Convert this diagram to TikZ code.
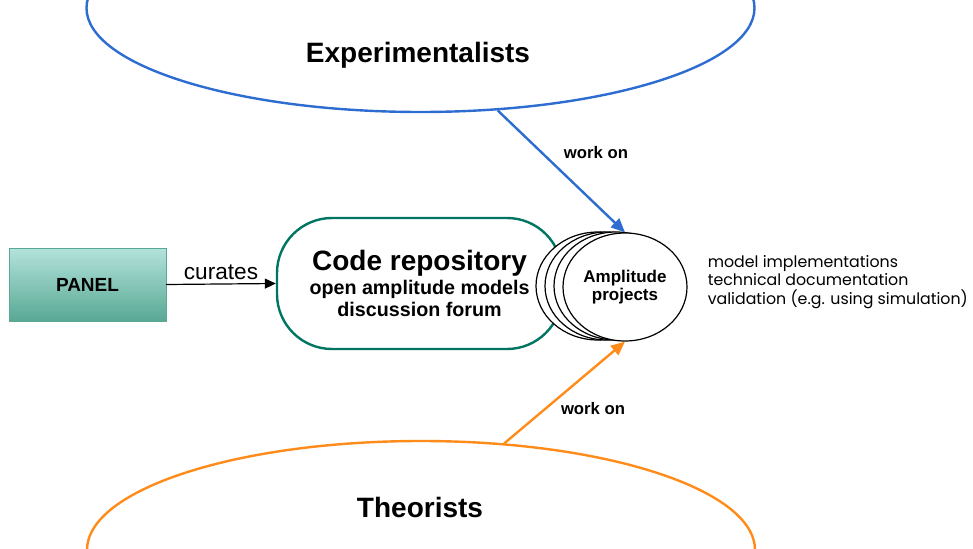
\documentclass[tikz,border=0pt]{standalone}
\usepackage{xcolor}
\usepackage{fontspec}
\setmainfont{Liberation Sans}
\newfontfamily\popfont{Poppins}
\usetikzlibrary{arrows.meta,positioning,shapes.geometric}
\definecolor{GBlue}{RGB}{45,108,208}
\definecolor{GOrange}{RGB}{255,140,26}
\definecolor{GTeal}{RGB}{0,118,98}
\definecolor{GMint}{RGB}{180,227,219}
\definecolor{GJade}{RGB}{88,168,148}

\tikzset{
  crowd/.style={ellipse, draw=#1, line width=2.4pt, minimum width=668pt, inner sep=0pt},
  crowdname/.style={font=\bfseries\fontsize{28}{30}\selectfont},
  projell/.style={ellipse, draw, fill=white, line width=1.2pt,
    minimum width=124pt, minimum height=108pt, inner sep=0pt},
  workon/.style={-{Triangle[length=14pt,width=12pt]}, line width=2.4pt},
  worklabel/.style={font=\bfseries\fontsize{16.7}{18}\selectfont}
}

\begin{document}
\begin{tikzpicture}[x=1pt,y=-1pt]
        \useasboundingbox (0,0) rectangle (973,548);
        \clip (0,0) rectangle (973,548);

        % the two communities
        \node[crowd=GBlue, minimum height=208pt] (expt) at (420.5,8) {};
        \node[crowdname] (exptname) at (418,55) {Experimentalists};
        \node[crowd=GOrange, minimum height=218pt] (theo) at (421,550) {};
        \node[crowdname] (theoname) at (420,507) {Theorists};

        \node[
          draw=GJade,
          top color=GMint,
          bottom color=GJade,
          minimum width=157pt,
          minimum height=73pt,
          font=\bfseries\fontsize{19}{20}\selectfont
        ] (panel) at (87.5,284.5) {PANEL};

        \node[
          rounded corners=55pt,
          draw=GTeal,
          line width=2.4pt,
          fill=white,
          minimum width=285pt,
          minimum height=131pt,
          align=center,
          font=\bfseries\fontsize{19.7}{22}\selectfont
        ] (repo) at (419.5,283.5) {
          {\fontsize{28}{32}\selectfont Code repository}\\[2pt]
          open amplitude models\\
          discussion forum
        };

        % stack of projects
        \foreach \k in {3,2,1}
          \node[projell] (amp\k) at (625-9*\k,286) {};
        \node[
          projell,
          align=center,
          font=\bfseries\fontsize{17}{18}\selectfont
        ] (amp) at (625,287) {Amplitude\\projects};

        \node[
          right=20pt of amp,
          yshift=5pt,
          inner sep=0pt,
          align=left,
          font=\popfont\fontsize{15.8}{18.3}\selectfont
        ] (tasks) {
          model implementations\\
          technical documentation\\
          validation (e.g. using simulation)
        };

        \draw[-{Triangle[length=11pt,width=10pt]}, line width=1.2pt] (panel.east) -- (repo.west)
          node[midway, above, inner sep=1pt, yshift=3pt, font=\fontsize{22.6}{24}\selectfont] (curates) {curates};

        \draw[workon, GBlue] (expt.-53) -- (amp.north);
        \node[worklabel] (workexpt) at (596,153) {work on};
        \draw[workon, GOrange] (theo.52) -- (amp.south);
        \node[worklabel] (worktheo) at (593,409) {work on};
      \end{tikzpicture}
\end{document}
